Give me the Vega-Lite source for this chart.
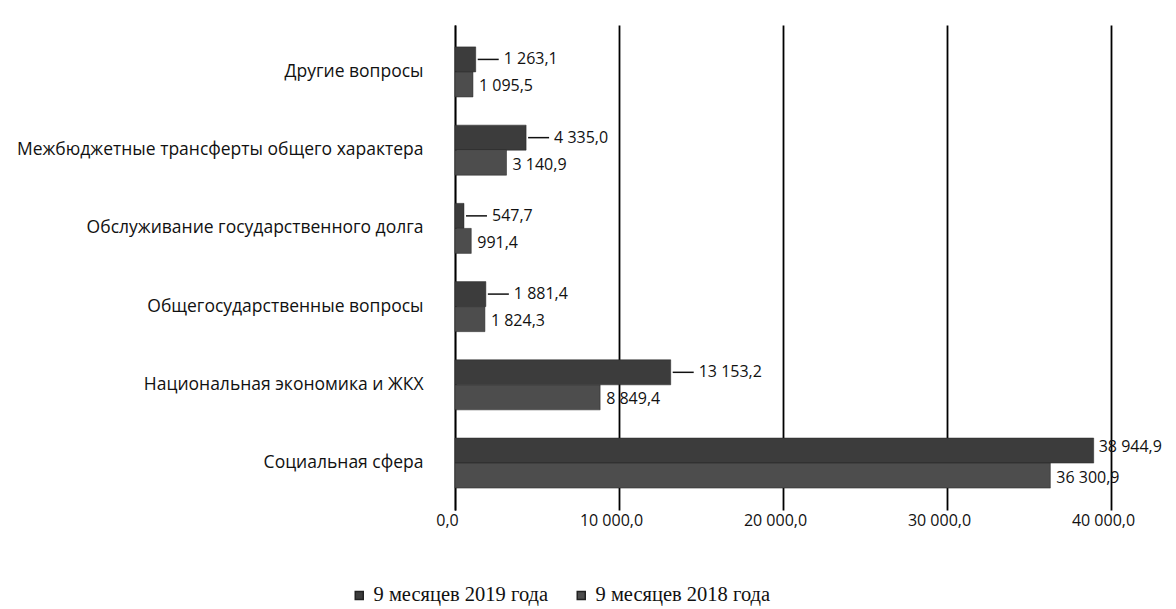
{
  "$schema": "https://vega.github.io/schema/vega-lite/v6.json",
  "autosize": {"type": "none"},
  "padding": {"left": 455, "top": 25, "right": 65, "bottom": 99},
  "width": 656,
  "height": 485,
  "config": {
    "locale": {"number": {"decimal": ",", "thousands": " ", "grouping": [3], "currency": ["", ""]}},
    "view": {"stroke": null},
    "font": "Open Sans"
  },
  "data": {
    "values": [
      {"category": "Другие вопросы", "series": "9 месяцев 2019 года", "value": 1263.1},
      {"category": "Другие вопросы", "series": "9 месяцев 2018 года", "value": 1095.5},
      {"category": "Межбюджетные трансферты общего характера", "series": "9 месяцев 2019 года", "value": 4335.0},
      {"category": "Межбюджетные трансферты общего характера", "series": "9 месяцев 2018 года", "value": 3140.9},
      {"category": "Обслуживание государственного долга", "series": "9 месяцев 2019 года", "value": 547.7},
      {"category": "Обслуживание государственного долга", "series": "9 месяцев 2018 года", "value": 991.4},
      {"category": "Общегосударственные вопросы", "series": "9 месяцев 2019 года", "value": 1881.4},
      {"category": "Общегосударственные вопросы", "series": "9 месяцев 2018 года", "value": 1824.3},
      {"category": "Национальная экономика и ЖКХ", "series": "9 месяцев 2019 года", "value": 13153.2},
      {"category": "Национальная экономика и ЖКХ", "series": "9 месяцев 2018 года", "value": 8849.4},
      {"category": "Социальная сфера", "series": "9 месяцев 2019 года", "value": 38944.9},
      {"category": "Социальная сфера", "series": "9 месяцев 2018 года", "value": 36300.9}
    ]
  },
  "encoding": {
    "y": {
      "field": "category", "type": "nominal", "sort": null,
      "scale": {"paddingInner": 0.36, "paddingOuter": 0.28},
      "axis": {"title": null, "ticks": false, "domain": true, "domainColor": "#000", "domainWidth": 1.5, "labelFontSize": 17.5, "labelColor": "#111", "labelPadding": 32, "labelLimit": 450, "labelFont": "Open Sans"}
    },
    "yOffset": {"field": "series", "type": "nominal", "sort": ["9 месяцев 2019 года", "9 месяцев 2018 года"]}
  },
  "layer": [
    {
      "mark": {"type": "bar", "stroke": "#222", "strokeWidth": 0.5},
      "encoding": {
        "x": {
          "field": "value", "type": "quantitative",
          "scale": {"domain": [0, 40000], "nice": false},
          "axis": {"title": null, "values": [0, 10000, 20000, 30000, 40000], "format": ",.1f", "grid": true, "gridColor": "#000", "gridWidth": 1.8, "gridOpacity": 1, "domain": false, "ticks": false, "labelFontSize": 16, "labelColor": "#111", "labelPadding": 2, "labelOffset": -8, "labelFont": "Open Sans", "labelFlush": false}
        },
        "color": {
          "field": "series", "type": "nominal",
          "sort": ["9 месяцев 2019 года", "9 месяцев 2018 года"],
          "scale": {"range": ["#3c3c3c", "#4d4d4d"]},
          "legend": {"title": null, "orient": "none", "direction": "horizontal", "legendX": -106, "legendY": 560, "symbolType": "square", "symbolSize": 64, "labelFont": "Liberation Serif", "labelFontSize": 20.5, "labelColor": "#111", "columnPadding": 22, "labelOffset": 4, "labelLimit": 300}
        }
      }
    },
    {
      "transform": [{"filter": "datum.series === '9 месяцев 2019 года' && datum.value < 30000"}],
      "mark": {"type": "rule", "color": "#111", "strokeWidth": 1.5, "xOffset": 2, "x2Offset": 23},
      "encoding": {
        "x": {"field": "value", "type": "quantitative"},
        "x2": {"field": "value"}
      }
    },
    {
      "transform": [{"filter": "datum.series === '9 месяцев 2019 года' && datum.value < 30000"}],
      "mark": {"type": "text", "align": "left", "baseline": "middle", "dx": 28, "fontSize": 16, "color": "#111", "font": "Open Sans"},
      "encoding": {
        "x": {"field": "value", "type": "quantitative"},
        "text": {"field": "value", "type": "quantitative", "format": ",.1f"}
      }
    },
    {
      "transform": [{"filter": "datum.series === '9 месяцев 2019 года' && datum.value >= 30000"}],
      "mark": {"type": "text", "align": "left", "baseline": "middle", "dx": 5, "dy": -4, "fontSize": 16, "color": "#111", "font": "Open Sans"},
      "encoding": {
        "x": {"field": "value", "type": "quantitative"},
        "text": {"field": "value", "type": "quantitative", "format": ",.1f"}
      }
    },
    {
      "transform": [{"filter": "datum.series === '9 месяцев 2018 года'"}],
      "mark": {"type": "text", "align": "left", "baseline": "middle", "dx": 6, "dy": 2, "fontSize": 16, "color": "#111", "font": "Open Sans"},
      "encoding": {
        "x": {"field": "value", "type": "quantitative"},
        "text": {"field": "value", "type": "quantitative", "format": ",.1f"}
      }
    }
  ]
}
